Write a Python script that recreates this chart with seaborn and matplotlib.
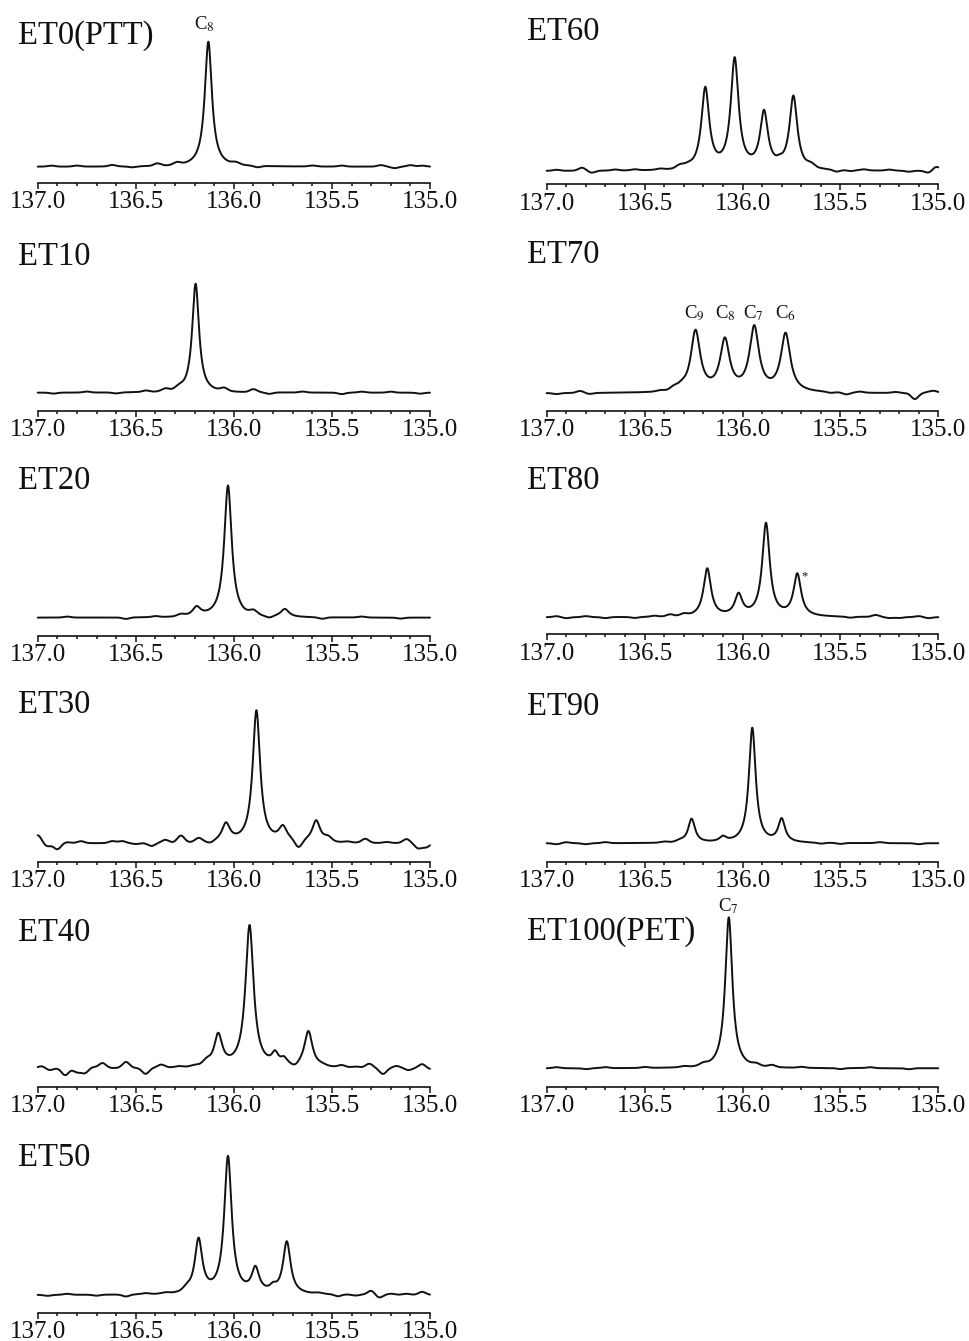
import numpy as np
import pandas as pd
import matplotlib
matplotlib.use("Agg")
import matplotlib.pyplot as plt
from matplotlib.ticker import MultipleLocator, FormatStrFormatter
import seaborn as sns

# ---------------- data (ppm positions, heights in baseline-relative units) ----------------
panel_names = ["ET0(PTT)", "ET10", "ET20", "ET30", "ET40", "ET50",
               "ET60", "ET70", "ET80", "ET90", "ET100(PET)"]
x_major_ticks = [137.0, 136.5, 136.0, 135.5, 135.0]

et0_peak_ppm = [136.13]
et0_peak_height = [125]
et0_peak_fwhm = [0.044]
et0_ripple_ppm = [136.93, 136.80, 136.62, 136.52, 136.39, 136.29, 135.99, 135.88, 135.60, 135.45, 135.25, 135.18, 135.10, 135.04]
et0_ripple_height = [1, 1, 1.5, -1, 2.5, 2.5, 2, -1.5, 1, 1, 1.5, -1.5, 1.5, 1]

et10_peak_ppm = [136.195]
et10_peak_height = [109]
et10_peak_fwhm = [0.042]
et10_ripple_ppm = [136.92, 136.75, 136.60, 136.45, 136.35, 136.28, 136.05, 135.90, 135.82, 135.65, 135.45, 135.35, 135.20, 135.05]
et10_ripple_height = [-1, 1, -1, 1.5, 2.5, 2.5, 3, 3, -1.5, 1, -1.5, 1, 1, -1]

et20_peak_ppm = [136.19, 136.03, 135.74]
et20_peak_height = [9, 132, 8]
et20_peak_fwhm = [0.05, 0.046, 0.05]
et20_ripple_ppm = [136.85, 136.55, 136.40, 136.27, 135.90, 135.82, 135.55, 135.35, 135.15]
et20_ripple_height = [1, -1.5, 1, 2, 4, -2, -1.5, 1, -1]

et30_peak_ppm = [136.04, 135.885, 135.75, 135.58]
et30_peak_height = [18, 132, 14, 22]
et30_peak_fwhm = [0.05, 0.046, 0.05, 0.05]
et30_ripple_ppm = [137.0, 136.95, 136.90, 136.85, 136.78, 136.62, 136.57, 136.50, 136.42, 136.35, 136.27, 136.18, 136.12,
                   135.67, 135.52, 135.42, 135.33, 135.22, 135.12, 135.06, 135.02]
et30_ripple_height = [8, -3, -6, 1, 2, 2, 2, -1, -3, 3, 7, 4, -2,
                      -8, 4, 1, 4, 1, 4, -5, -4]

et40_peak_ppm = [136.08, 135.92, 135.79, 135.745, 135.62]
et40_peak_height = [32, 142, 11, 6, 36]
et40_peak_fwhm = [0.05, 0.05, 0.04, 0.04, 0.05]
et40_ripple_ppm = [136.98, 136.94, 136.86, 136.80, 136.76, 136.72, 136.67, 136.55, 136.45, 136.37, 136.28, 136.20, 136.14,
                   135.69, 135.55, 135.45, 135.38, 135.31, 135.24, 135.17, 135.11, 135.04, 135.0]
et40_ripple_height = [2, -2, -7, -4, -5, 1, 5, 6, -6, 3, 1, 1, 4,
                      -3, 1, 2, 1, 4, -6, 2, -2, 4, -1]

et50_peak_ppm = [136.18, 136.03, 135.89, 135.80, 135.73]
et50_peak_height = [54, 137, 24, 5, 52]
et50_peak_fwhm = [0.046, 0.046, 0.046, 0.04, 0.046]
et50_ripple_ppm = [136.95, 136.85, 136.70, 136.55, 136.45, 136.35, 136.24, 135.57, 135.47, 135.38, 135.30, 135.26, 135.20, 135.12, 135.04]
et50_ripple_height = [-1, 1, -1, -2, 1, 1, 3, 1, -2, -1, 4, -3, 1, 1, 3]

et60_peak_ppm = [136.19, 136.04, 135.89, 135.81, 135.74]
et60_peak_height = [81, 110, 56, 3, 73]
et60_peak_fwhm = [0.048, 0.048, 0.048, 0.04, 0.048]
et60_ripple_ppm = [136.95, 136.82, 136.77, 136.65, 136.55, 136.42, 136.32, 136.28, 135.65, 135.52, 135.45, 135.38, 135.25, 135.15, 135.05, 135.01]
et60_ripple_height = [1, 3, -2, 1, 1, 1, 3, 2, 3, -2, -1, 1, 1, -1, -2, 4]

et70_peak_ppm = [136.24, 136.09, 135.94, 135.78]
et70_peak_height = [61, 51, 64, 58]
et70_peak_fwhm = [0.058, 0.058, 0.058, 0.058]
et70_ripple_ppm = [136.95, 136.83, 136.78, 136.42, 136.35, 136.31, 135.55, 135.47, 135.40, 135.22, 135.12, 135.05, 135.02]
et70_ripple_height = [-1, 2, -1, 1, 3, 3, -1, -2, 1, 1, -6, 1, 2]

et80_peak_ppm = [136.18, 136.02, 135.88, 135.72]
et80_peak_height = [48, 21, 93, 42]
et80_peak_fwhm = [0.046, 0.046, 0.046, 0.046]
et80_ripple_ppm = [136.95, 136.90, 136.80, 136.70, 136.55, 136.45, 136.37, 136.30, 135.45, 135.32, 135.25, 135.20, 135.10, 135.05]
et80_ripple_height = [1, -1, 1, -1, -1, 1, 2, 2, -1, 2, -1, -1, 1, -1]

et90_peak_ppm = [136.26, 136.10, 135.95, 135.80]
et90_peak_height = [24, 5, 115, 23]
et90_peak_fwhm = [0.042, 0.042, 0.042, 0.042]
et90_ripple_ppm = [136.95, 136.90, 136.80, 136.70, 136.40, 136.32, 135.60, 135.50, 135.30, 135.10]
et90_ripple_height = [-1, 1, -1, 1, 1, 1.5, -1, -1, 1, -1]

et100_peak_ppm = [136.07]
et100_peak_height = [151]
et100_peak_fwhm = [0.044]
et100_ripple_ppm = [136.95, 136.80, 136.70, 136.50, 136.30, 136.20, 135.93, 135.85, 135.70, 135.50, 135.35, 135.15]
et100_ripple_height = [1, -1, 1, 1, 1, 2, 2, 2, 1, -1, 1, -1]

# peak labels: (panel, text, ppm, height above baseline)
label_panels = ["ET0(PTT)", "ET70", "ET70", "ET70", "ET70", "ET100(PET)"]
label_texts = ["C$_8$", "C$_9$", "C$_8$", "C$_7$", "C$_6$", "C$_7$"]
label_ppm = [136.15, 136.245, 136.09, 135.945, 135.78, 136.07]
label_height = [137, 75, 75, 75, 75, 157]

star_panel = "ET80"
star_ppm = 135.685
star_height = 41

# ---------------- assemble ----------------
peaks = {
    "ET0(PTT)": (et0_peak_ppm, et0_peak_height, et0_peak_fwhm, et0_ripple_ppm, et0_ripple_height),
    "ET10": (et10_peak_ppm, et10_peak_height, et10_peak_fwhm, et10_ripple_ppm, et10_ripple_height),
    "ET20": (et20_peak_ppm, et20_peak_height, et20_peak_fwhm, et20_ripple_ppm, et20_ripple_height),
    "ET30": (et30_peak_ppm, et30_peak_height, et30_peak_fwhm, et30_ripple_ppm, et30_ripple_height),
    "ET40": (et40_peak_ppm, et40_peak_height, et40_peak_fwhm, et40_ripple_ppm, et40_ripple_height),
    "ET50": (et50_peak_ppm, et50_peak_height, et50_peak_fwhm, et50_ripple_ppm, et50_ripple_height),
    "ET60": (et60_peak_ppm, et60_peak_height, et60_peak_fwhm, et60_ripple_ppm, et60_ripple_height),
    "ET70": (et70_peak_ppm, et70_peak_height, et70_peak_fwhm, et70_ripple_ppm, et70_ripple_height),
    "ET80": (et80_peak_ppm, et80_peak_height, et80_peak_fwhm, et80_ripple_ppm, et80_ripple_height),
    "ET90": (et90_peak_ppm, et90_peak_height, et90_peak_fwhm, et90_ripple_ppm, et90_ripple_height),
    "ET100(PET)": (et100_peak_ppm, et100_peak_height, et100_peak_fwhm, et100_ripple_ppm, et100_ripple_height),
}

ppm_grid = np.linspace(137.0, 135.0, 2401)
RIPPLE_SIGMA = 0.018


def spectrum(p_ppm, p_h, p_w, r_ppm, r_h):
    y = np.zeros_like(ppm_grid)
    for c, h, w in zip(p_ppm, p_h, p_w):
        g = w / 2.0
        y += h / (1.0 + ((ppm_grid - c) / g) ** 2)
    for c, h in zip(r_ppm, r_h):
        y += h * np.exp(-0.5 * ((ppm_grid - c) / RIPPLE_SIGMA) ** 2)
    return y


frames = []
for name, params in peaks.items():
    frames.append(pd.DataFrame({"panel": name, "ppm": ppm_grid, "intensity": spectrum(*params)}))
df = pd.concat(frames, ignore_index=True)

# ---------------- style / layout ----------------
sns.set_theme(style="white")
plt.rcParams["font.family"] = ["Liberation Serif", "DejaVu Serif"]
plt.rcParams["mathtext.fontset"] = "stix"

W, H = 969, 1341
fig = plt.figure(figsize=(W / 100, H / 100), dpi=100)
fig.patch.set_facecolor("white")

# layout: (x-left px, x-right px, axis y px, baseline offset px, title baseline y px, title x px)
layout = {
    "ET0(PTT)":   (37.7, 430.0, 182.7, 16.0, 43.3, 18.3),
    "ET10":       (37.7, 430.0, 410.7, 18.0, 265.0, 18.3),
    "ET20":       (37.7, 430.0, 635.7, 18.0, 489.3, 18.3),
    "ET30":       (37.7, 430.0, 861.7, 18.4, 713.3, 18.3),
    "ET40":       (37.7, 430.0, 1086.7, 18.4, 940.7, 18.3),
    "ET50":       (37.7, 430.0, 1312.7, 17.7, 1166.0, 18.3),
    "ET60":       (546.7, 938.3, 184.3, 13.3, 40.0, 526.7),
    "ET70":       (546.7, 938.3, 411.0, 17.7, 263.3, 526.7),
    "ET80":       (546.7, 938.3, 634.3, 17.0, 489.3, 526.7),
    "ET90":       (546.7, 938.3, 861.7, 18.4, 715.0, 526.7),
    "ET100(PET)": (546.7, 938.3, 1087.0, 18.7, 940.0, 526.7),
}
AX_H = 180.0

axes = {}
for name in panel_names:
    x0, x1, ay, off, ty, tx = layout[name]
    ax = fig.add_axes([x0 / W, 1 - ay / H, (x1 - x0) / W, AX_H / H])
    ax.patch.set_alpha(0)
    sub = df[df["panel"] == name]
    sns.lineplot(data=sub, x="ppm", y="intensity", ax=ax, color="#111111",
                 linewidth=1.4, estimator=None, sort=False, clip_on=False)
    ax.set_xlim(137.0, 135.0)
    ax.set_ylim(-off, AX_H - off)
    for s in ["left", "right", "top"]:
        ax.spines[s].set_visible(False)
    ax.spines["bottom"].set_linewidth(1.2)
    ax.spines["bottom"].set_color("#111111")
    ax.set_yticks([])
    ax.set_xticks(x_major_ticks)
    ax.xaxis.set_major_formatter(FormatStrFormatter("%.1f"))
    ax.xaxis.set_minor_locator(MultipleLocator(0.1))
    ax.tick_params(axis="x", which="major", direction="out", length=4.5, width=1.1,
                   color="#111111", labelsize=18, pad=1.5, bottom=True, labelcolor="#111111")
    ax.tick_params(axis="x", which="minor", direction="out", length=2.5, width=1.1,
                   color="#111111", bottom=True)
    ax.set_xlabel("")
    ax.set_ylabel("")
    ax.grid(False)
    fig.text(tx / W, 1 - ty / H, name, fontsize=23.5, ha="left", va="baseline", color="#111111")
    axes[name] = ax

for pn, txt, xp, yh in zip(label_panels, label_texts, label_ppm, label_height):
    axes[pn].text(xp, yh, txt, fontsize=13.5, ha="center", va="baseline", color="#111111", clip_on=False)

axes[star_panel].text(star_ppm, star_height, "*", fontsize=9, ha="center", va="center", color="#111111")

fig.savefig("out.png", dpi=100, facecolor="white")
